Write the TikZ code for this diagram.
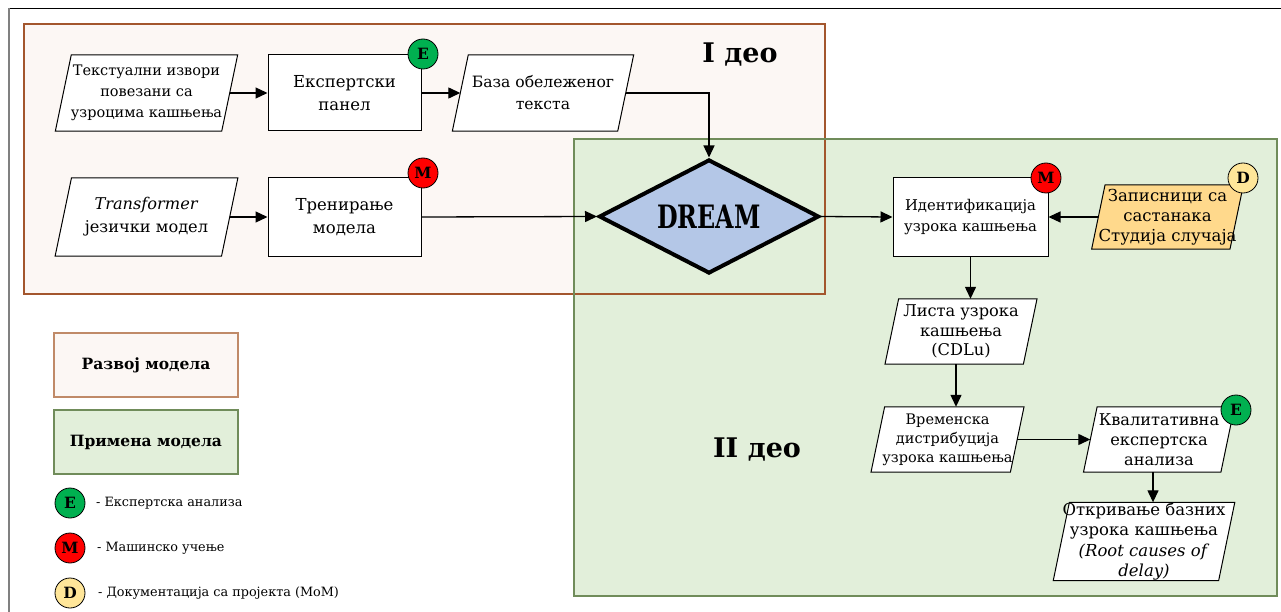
\documentclass[tikz,border=0pt]{standalone}
\usepackage{fontspec}
\setmainfont{DejaVu Serif}
\usetikzlibrary{arrows.meta,shapes.geometric,calc}

\definecolor{devfill}{RGB}{252,247,244}
\definecolor{devline}{RGB}{163,86,45}
\definecolor{legdevline}{RGB}{192,138,104}
\definecolor{appfill}{RGB}{226,239,218}
\definecolor{appline}{RGB}{112,140,90}
\definecolor{dreamfill}{RGB}{180,199,231}
\definecolor{docfill}{RGB}{255,217,140}
\definecolor{docbadge}{RGB}{255,230,153}
\definecolor{expgreen}{RGB}{0,176,80}
\definecolor{mlred}{RGB}{255,0,0}

\pgfdeclarelayer{regions}
\pgfdeclarelayer{boxes}
\pgfsetlayers{regions,boxes,main}

\newcommand\fsz[2]{\fontsize{#1}{#2}\selectfont}

\tikzset{
  ptext/.style={inner sep=0pt, align=center},
  pshape/.style={draw=black, line width=1pt},
  procbox/.style={draw=black, line width=1pt, fill=white, inner sep=0pt, align=center},
  conn/.style={line width=1.3pt, -{Triangle[length=12pt,width=11pt]}},
  badge/.style={circle, draw=black, line width=0.8pt, minimum size=30pt, inner sep=0pt,
    font=\fsz{15.5}{15.5}\bfseries},
  parttitle/.style={font=\fsz{27}{27}\bfseries},
  legbox/.style={minimum width=184pt, minimum height=64pt, line width=1.2pt,
    font=\fsz{15.5}{15.5}\bfseries},
  legtxt/.style={anchor=west, inner sep=0pt, font=\fsz{12.8}{13}}
}

% parallelogram: [fill] name, x, y, mid-width, height, node keys, text
\newcommand\pbox[8][white]{%
  \node[ptext, minimum width=#5pt, minimum height=#6pt, #7] (#2) at (#3,#4) {#8};%
  \pgfmathsetmacro\slant{0.105*#6}%
  \begin{pgfonlayer}{boxes}
    \path[pshape, fill=#1] ($(#2.south west)+(-\slant,0)$) -- ($(#2.north west)+(\slant,0)$)
      -- ($(#2.north east)+(\slant,0)$) -- ($(#2.south east)+(-\slant,0)$) -- cycle;
  \end{pgfonlayer}%
}

\begin{document}
\begin{tikzpicture}[x=1pt,y=-1pt]
\useasboundingbox (0,0) rectangle (1281,612);

% page frame
\draw[line width=1.5pt] (8,8.5) -- (1281,8.5);
\draw[gray, line width=2pt] (9,8) -- (9,612);

% the two phases
\begin{pgfonlayer}{regions}
  \fill[devfill] (24,24) rectangle (825,294);
  \fill[appfill] (574,139) rectangle (1277,596);
  \draw[devline, line width=1.1pt] (24,24) rectangle (825,294);
  \draw[appline, line width=1.3pt] (574,139) rectangle (1277,596);
\end{pgfonlayer}

\node[parttitle] (p1) at (740,55) {I део};
\node[parttitle] (p2) at (757,450) {II део};

% phase I
\pbox{src}{146.5}{93}{166}{76}{font=\fsz{14.5}{21}}{Текстуални извори\\повезани са\\узроцима кашњења}
\node[procbox, minimum width=153pt, minimum height=76pt, font=\fsz{16.5}{23}] (panel) at (344.5,93) {Експертски\\панел};
\pbox{baza}{543}{93}{165}{76}{font=\fsz{15.6}{22}}{База обележеног\\текста}
\pbox{trans}{146.5}{217}{166}{78}{font=\fsz{16.2}{23}}{\textit{Transformer}\\језички модел}
\node[procbox, minimum width=153pt, minimum height=78pt, font=\fsz{16.5}{23}] (train) at (344.5,217) {Тренирање\\модела};

\node[diamond, aspect=2, draw=black, line width=4pt, fill=dreamfill, minimum width=220pt,
  minimum height=114pt, inner sep=0pt]
  (dream) at (709,216.5) {\scalebox{0.85}[1.15]{\fsz{28}{28}\bfseries DREAM}};

% phase II
\node[procbox, minimum width=155pt, minimum height=78pt, font=\fsz{14.8}{21}] (ident) at (970.5,217) {Идентификација\\узрока кашњења};
\pbox[docfill]{zap}{1167.5}{217}{137}{64}{font=\fsz{16.5}{20}}{Записници са\\састанака\\Студија случаја}
\pbox{lista}{961}{331.5}{138}{65}{font=\fsz{16.2}{19.5}}{Листа узрока\\кашњења\\(CDLu)}
\pbox{vrem}{947.5}{439.5}{139}{65}{font=\fsz{14.5}{19}}{Временска\\дистрибуција\\узрока кашњења}
\pbox{kval}{1159}{439.5}{137}{65}{font=\fsz{16.2}{20}}{Квалитативна\\експертска\\анализа}
\pbox{otkr}{1144}{541.5}{165}{77}{font=\fsz{16.5}{20.5}}{Откривање базних\\узрока кашњења\\\textit{(Root causes of}\\\textit{delay)}}

% badges
\node[badge, fill=expgreen] (bpanel) at (423,54) {E};
\node[badge, fill=mlred] (btrain) at (423,173) {M};
\node[badge, fill=mlred] (bident) at (1046,178) {M};
\node[badge, fill=docbadge] (bzap) at (1243,178) {D};
\node[badge, fill=expgreen] (bkval) at (1236,410) {E};

% connectors
\draw[conn] (src.east) -- (panel.west);
\draw[conn] (panel.east) -- (baza.west);
\draw[conn] (baza.east) -| (dream.north);
\draw[conn] (trans.east) -- (train.west);
\draw[conn] (train.east) -- (dream.west);
\draw[conn] (dream.east) -- (ident.west);
\draw[conn] (zap.west) -- (ident.east);
\draw[conn] (ident.south) -- (ident.south |- lista.north);
\draw[conn] ($(lista.south)+(-5,0)$) -- ($(lista.south |- vrem.north)+(-5,0)$);
\draw[conn] (vrem.east) -- (kval.west);
\draw[conn] ($(kval.south)+(-6,0)$) -- ($(kval.south |- otkr.north)+(-6,0)$);

% legend
\node[legbox, draw=legdevline, fill=devfill] (legdev) at (146,365) {Развој модела};
\node[legbox, draw=appline, fill=appfill] (legapp) at (146,442) {Примена модела};
\node[badge, fill=expgreen] (legE) at (70,503) {E};
\node[badge, fill=mlred] (legM) at (70,548) {M};
\node[badge, fill=docbadge] (legD) at (70,593) {D};
\node[legtxt] (legEt) at (96,503) {- Експертска анализа};
\node[legtxt] (legMt) at (97,548) {- Машинско учење};
\node[legtxt] (legDt) at (98,593) {- Документација са пројекта (MoM)};
\end{tikzpicture}
\end{document}
